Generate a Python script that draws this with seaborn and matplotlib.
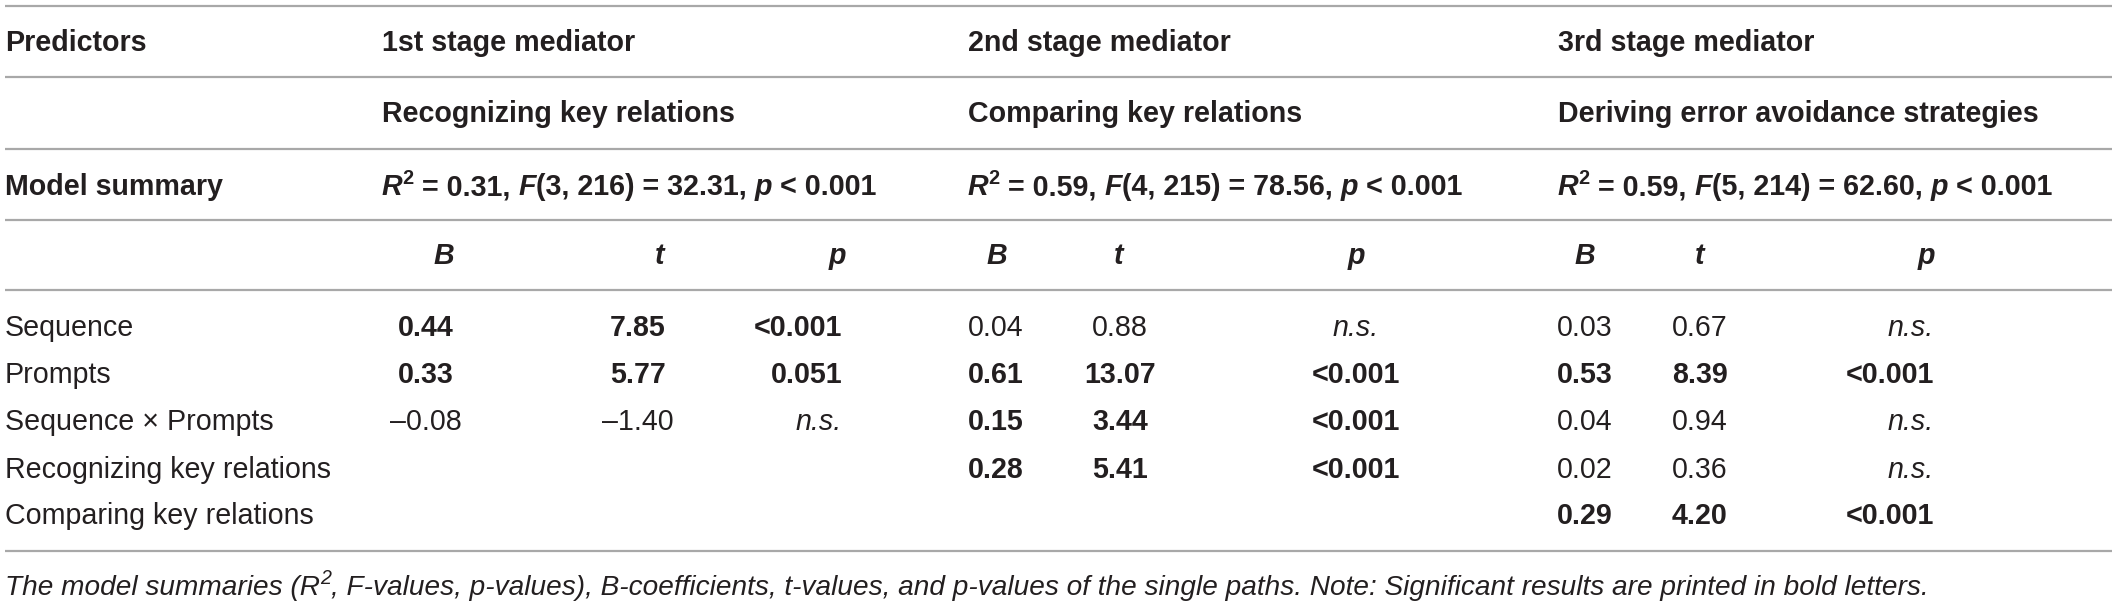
import matplotlib
matplotlib.use("Agg")
import matplotlib.pyplot as plt
import seaborn as sns


# ============================
# Table content
# ============================

predictors = ["Sequence", "Prompts", "Sequence \u00d7 Prompts",
              "Recognizing key relations", "Comparing key relations"]

stage_titles = ["1st stage mediator", "2nd stage mediator", "3rd stage mediator"]
mediators = ["Recognizing key relations", "Comparing key relations",
             "Deriving error avoidance strategies"]

model_r2 = ["0.31", "0.59", "0.59"]
model_df = ["3, 216", "4, 215", "5, 214"]
model_f = ["32.31", "78.56", "62.60"]
model_p = ["0.001", "0.001", "0.001"]

b1 = ["0.44", "0.33", "\u20130.08", "", ""]
t1 = ["7.85", "5.77", "\u20131.40", "", ""]
p1 = ["<0.001", "0.051", "n.s.", "", ""]
sig1 = [True, True, False, False, False]

b2 = ["0.04", "0.61", "0.15", "0.28", ""]
t2 = ["0.88", "13.07", "3.44", "5.41", ""]
p2 = ["n.s.", "<0.001", "<0.001", "<0.001", ""]
sig2 = [False, True, True, True, False]

b3 = ["0.03", "0.53", "0.04", "0.02", "0.29"]
t3 = ["0.67", "8.39", "0.94", "0.36", "4.20"]
p3 = ["n.s.", "<0.001", "n.s.", "n.s.", "<0.001"]
sig3 = [False, True, False, False, True]

caption = [
    ("The model summaries (R", "italic"), ("2", "sup"),
    (", F-values, p-values), B-coefficients, t-values, and p-values of the single paths. "
     "Note: Significant results are printed in bold letters.", "italic"),
]

# ============================
# Layout (pixel coordinates)
# ============================

W, H = 2117, 605
FS = 20.6
CAP_FS = 20.2
INK = "#231f20"
RULE = "#a8a8a8"

col_start = [382, 968, 1558]
col_x = [(426, 638, 842), (996, 1120, 1356), (1585, 1700, 1934)]
col_ha = [("center", "center", "right"), ("center", "center", "center"),
          ("center", "center", "right")]
head_x = [(444, 660, 837), (997, 1119, 1356), (1585, 1700, 1926)]

header_base = [51, 122, 195, 264]
row_base = [336, 383, 430, 478, 524]
rules = [5.5, 77, 149, 220, 290, 551]


def draw_runs(ax, fig, x, y, runs, size=FS):
    """Draw text pieces one after another on a common baseline."""
    renderer = fig.canvas.get_renderer()
    inv = ax.transData.inverted()
    for text, style in runs:
        kw = dict(fontsize=size, color=INK, va="baseline", ha="left")
        yy = y
        if style == "bold":
            kw["fontweight"] = "bold"
        elif style == "bolditalic":
            kw["fontweight"] = "bold"
            kw["fontstyle"] = "italic"
        elif style == "italic":
            kw["fontstyle"] = "italic"
        elif style == "boldsup":
            kw["fontweight"] = "bold"
            kw["fontsize"] = size * 0.7
            yy = y - 11
        elif style == "sup":
            kw["fontstyle"] = "italic"
            kw["fontsize"] = size * 0.7
            yy = y - 11
        t = ax.text(x, yy, text, **kw)
        bb = t.get_window_extent(renderer=renderer)
        x0 = inv.transform((bb.x0, bb.y0))[0]
        x1 = inv.transform((bb.x1, bb.y0))[0]
        x = x + (x1 - x0)
    return x


def main():
    sns.set_theme(style="white")
    plt.rcParams["font.family"] = ["Liberation Sans", "DejaVu Sans"]

    fig = plt.figure(figsize=(W / 100, H / 100), dpi=100)
    ax = fig.add_axes([0, 0, 1, 1])
    ax.set_xlim(0, W)
    ax.set_ylim(H, 0)
    ax.axis("off")

    for y in rules:
        ax.plot([5, 2112], [y, y], color=RULE, lw=1.6, solid_capstyle="butt")

    # header rows
    ax.text(5, header_base[0], "Predictors", fontsize=FS, fontweight="bold",
            color=INK, va="baseline")
    ax.text(5, header_base[2], "Model summary", fontsize=FS, fontweight="bold",
            color=INK, va="baseline")
    for i in range(3):
        ax.text(col_start[i], header_base[0], stage_titles[i], fontsize=FS,
                fontweight="bold", color=INK, va="baseline")
        ax.text(col_start[i], header_base[1], mediators[i], fontsize=FS,
                fontweight="bold", color=INK, va="baseline")
        runs = [("R", "bolditalic"), ("2", "boldsup"),
                (" = " + model_r2[i] + ", ", "bold"), ("F", "bolditalic"),
                ("(" + model_df[i] + ") = " + model_f[i] + ", ", "bold"),
                ("p", "bolditalic"), (" < " + model_p[i], "bold")]
        draw_runs(ax, fig, col_start[i], header_base[2], runs)
        for hx, lab in zip(head_x[i], ["B", "t", "p"]):
            ax.text(hx, header_base[3], lab, fontsize=FS, fontweight="bold",
                    fontstyle="italic", color=INK, va="baseline", ha="center")

    # body rows
    for r, name in enumerate(predictors):
        ax.text(5, row_base[r], name, fontsize=FS, color=INK, va="baseline")

    blocks = [(b1, t1, p1, sig1), (b2, t2, p2, sig2), (b3, t3, p3, sig3)]
    for i, (bv, tv, pv, sg) in enumerate(blocks):
        for r in range(len(predictors)):
            weight = "bold" if sg[r] else "normal"
            for k, vals in enumerate([bv, tv, pv]):
                val = vals[r]
                if not val:
                    continue
                style = "italic" if val == "n.s." else "normal"
                ax.text(col_x[i][k], row_base[r], val, fontsize=FS,
                        fontweight=weight, fontstyle=style, color=INK,
                        va="baseline", ha=col_ha[i][k])

    draw_runs(ax, fig, 5, 595, caption, size=CAP_FS)

    fig.savefig("out.png", dpi=100, facecolor="white")
    plt.close(fig)


if __name__ == "__main__":
    main()
